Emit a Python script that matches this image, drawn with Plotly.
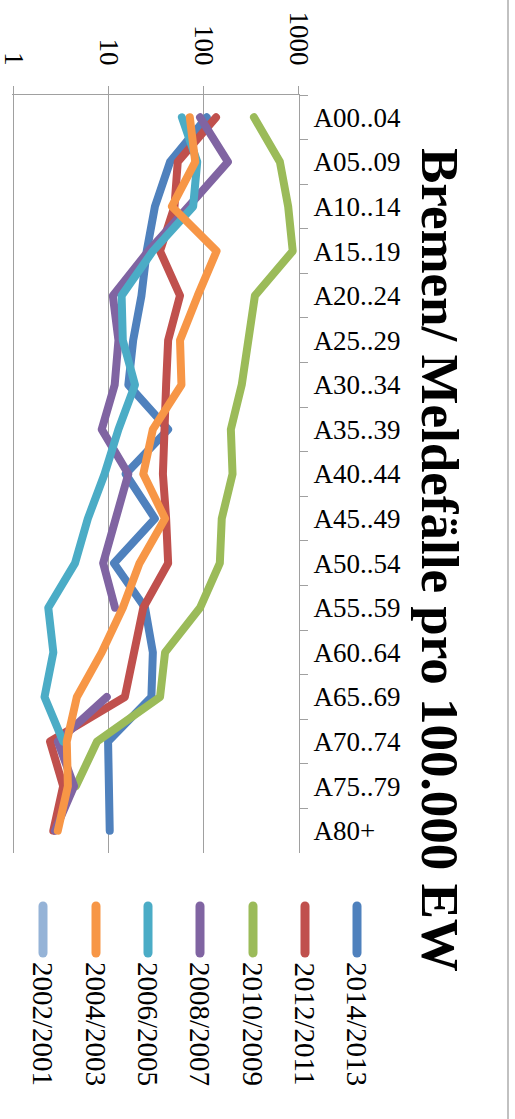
import plotly.graph_objects as go

# Altersgruppen (Kategorieachse)
age_groups = ["A00..04", "A05..09", "A10..14", "A15..19", "A20..24", "A25..29",
              "A30..34", "A35..39", "A40..44", "A45..49", "A50..54", "A55..59",
              "A60..64", "A65..69", "A70..74", "A75..79", "A80+"]

# Meldefälle pro 100.000 Einwohner je Saison (None = kein Wert)
s_2014_2013 = [107, 44, 30.5, 25, 22, 18, 16, 42, 15, 30.5, 11.3, 24, 29, 28, 9.8, 9.8, 10.2]
s_2012_2011 = [134, 53, 49, 34.5, 56, 42, 40, 39, 37, 40, 42, 23, 18.7, 14.7, 2.4, 3.3, 2.6]
s_2010_2009 = [336, 630, 770, 860, 344, 292, 250, 192, 200, 154, 147, 91, 39, 34.5, 7.5, 4.5, None]
s_2008_2007 = [91, 179, 69, 26, 11, 12.6, 11.5, 8.4, 16, 12, 8.7, 11.6, None, 9.5, 2.9, 4.3, 2.7]
s_2006_2005 = [58.6, 85, 77, 29, 13.6, 14, 18.8, 12.6, 9, 6, 4.4, 2.3, 2.6, 2.1, 3.3, None, None]
s_2004_2003 = [71, 81, 46, 136, 86, 56, 58, 29, 23, 39, 21, 14, 8.4, 4.6, 3.6, 3.7, 2.9]
s_2002_2001 = [None] * len(age_groups)

series_names = ["2014/2013", "2012/2011", "2010/2009", "2008/2007",
                "2006/2005", "2004/2003", "2002/2001"]
series_values = [s_2014_2013, s_2012_2011, s_2010_2009, s_2008_2007,
                 s_2006_2005, s_2004_2003, s_2002_2001]
series_colors = ["#4F81BD", "#C0504D", "#9BBB59", "#8064A2",
                 "#4BACC6", "#F79646", "#95B3D7"]

value_ticks = [1, 10, 100, 1000]
value_tick_labels = ["1", "10", "100", "1000"]

title_text = "Bremen/ Meldefälle pro 100.000 EW"

W, H = 515, 1119
L, R, T, B = 12, 299, 95, 853  # plot area in pixels

def px_x(x):
    return (x - L) / (R - L)

def px_y(y):
    return (B - y) / (B - T)

SERIF = "Liberation Serif"
GRAY = "#A0A0A0"

fig = go.Figure()
for name, vals, col in zip(series_names, series_values, series_colors):
    fig.add_trace(go.Scatter(
        x=vals, y=age_groups, mode="lines", name=name,
        line=dict(color=col, width=8),
        connectgaps=False, showlegend=False,
    ))

n_cat = len(age_groups)
fig.update_layout(
    template="none",
    width=W, height=H,
    margin=dict(l=L, r=W - R, t=T, b=H - B, pad=0, autoexpand=False),
    paper_bgcolor="white", plot_bgcolor="white",
    font=dict(family=SERIF, color="black"),
    showlegend=False,
    xaxis=dict(
        type="log", range=[-0.02, 3.0005], side="top", automargin=False,
        tickmode="array", tickvals=value_ticks, ticktext=value_tick_labels,
        tickangle=90, tickfont=dict(family=SERIF, size=27, color="black"),
        ticklabeloverflow="allow",
        ticks="outside", ticklen=8, tickcolor=GRAY, tickwidth=1.3,
        showline=True, linecolor=GRAY, linewidth=1.3,
        showgrid=True, gridcolor=GRAY, gridwidth=1.3,
        zeroline=False, ticklabelstandoff=11,
    ),
    yaxis=dict(
        type="category", categoryorder="array", categoryarray=age_groups,
        range=[n_cat - 0.5, -0.5], side="right", automargin=False,
        tickfont=dict(family=SERIF, size=27, color="black"),
        ticklabeloverflow="allow",
        ticks="outside", ticklen=8, tickcolor=GRAY, tickwidth=1.3,
        tickson="boundaries",
        showline=True, linecolor=GRAY, linewidth=1.3,
        showgrid=False, zeroline=False, ticklabelstandoff=8,
    ),
)

# Titel (um 90° gedreht)
fig.add_annotation(
    text="<b>" + title_text + "</b>", textangle=90,
    xref="paper", yref="paper", x=px_x(440), y=px_y(560),
    xanchor="center", yanchor="middle", showarrow=False,
    font=dict(family=SERIF, size=53, color="black"),
)

# Legende (senkrechte Linien mit gedrehter Beschriftung)
legend_x = [357, 305, 253, 200, 148, 96, 43]
for lx, name, col in zip(legend_x, series_names, series_colors):
    fig.add_shape(
        type="line", xref="paper", yref="paper",
        x0=px_x(lx), x1=px_x(lx), y0=px_y(906), y1=px_y(953),
        line=dict(color=col, width=9),
    )
    fig.add_annotation(
        text=name, textangle=90,
        xref="paper", yref="paper", x=px_x(lx), y=px_y(960),
        xanchor="center", yanchor="top", showarrow=False,
        font=dict(family=SERIF, size=29, color="black"),
    )

# Rahmen des Diagrammbereichs (rechte Kante)
fig.add_shape(
    type="line", xref="paper", yref="paper",
    x0=px_x(508), x1=px_x(508), y0=px_y(0), y1=px_y(H),
    line=dict(color=GRAY, width=1.3),
)

round_caps = (
    "document.querySelectorAll('.scatterlayer .js-line, .shapelayer path')"
    ".forEach(function(p){p.style.strokeLinecap='round';"
    "p.style.strokeLinejoin='round';});"
)

fig.write_html("out.html", post_script=round_caps)
